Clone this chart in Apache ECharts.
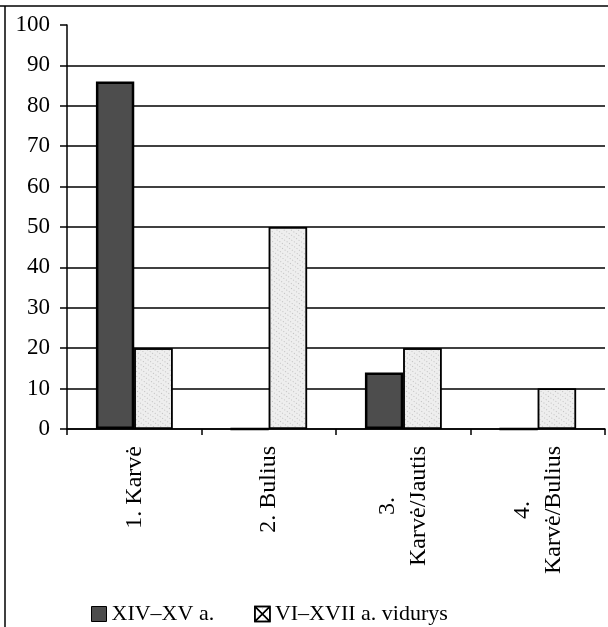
<!DOCTYPE html>
<html>
<head>
<meta charset="utf-8">
<script src="https://cdn.jsdelivr.net/npm/echarts@6/dist/echarts.min.js"></script>
<style>
html,body{margin:0;padding:0;background:#fff;}
#chart{width:608px;height:627px;}
</style>
</head>
<body>
<div id="chart"></div>
<script>
const categories = ['1. Karvė', '2. Bulius', '3.\nKarvė/Jautis', '4.\nKarvė/Bulius'];
const seriesNames = ['XIV–XV a.', 'VI–XVII a. vidurys'];
const valuesA = [86, 0, 14, 0];
const valuesB = [20, 50, 20, 10];
const yTicks = [0, 10, 20, 30, 40, 50, 60, 70, 80, 90, 100];

const FONT = 'Liberation Serif';
const chart = echarts.init(document.getElementById('chart'), null, {renderer: 'canvas'});
chart.setOption({
  backgroundColor: '#fff',
  animation: false,
  graphic: [
    {type: 'line', shape: {x1: 0, y1: 6, x2: 608, y2: 6}, style: {stroke: '#000', lineWidth: 1.5}},
    {type: 'line', shape: {x1: 5, y1: 6, x2: 5, y2: 627}, style: {stroke: '#000', lineWidth: 1.5}}
  ],
  grid: {left: 67, right: 3, top: 25, bottom: 198, containLabel: false},
  legend: {
    left: 86, top: 598,
    itemWidth: 15, itemHeight: 15, itemGap: 40,
    textStyle: {fontFamily: FONT, fontSize: 22, color: '#000'},
    data: [
      {name: seriesNames[0], icon: 'rect', itemStyle: {color: '#4d4d4d', borderColor: '#000', borderWidth: 1}},
      {name: seriesNames[1], icon: 'path://M0,0L10,0L10,10L0,10Z M0,0L10,10 M10,0L0,10', itemStyle: {color: '#fff', borderColor: '#000', borderWidth: 1.5}}
    ]
  },
  xAxis: {
    type: 'category',
    data: categories,
    axisLine: {lineStyle: {color: '#000', width: 1.5}},
    axisTick: {show: true, length: 6, lineStyle: {color: '#000', width: 1.5}},
    axisLabel: {
      rotate: 90, margin: 17, interval: 0,
      fontFamily: FONT, fontSize: 24, color: '#000', lineHeight: 31,
      formatter: v => v.split('\n').map(s => '{c|' + s + '}').join('\n'),
      rich: {c: {fontFamily: FONT, fontSize: 24, color: '#000', lineHeight: 31, align: 'center'}}
    }
  },
  yAxis: {
    type: 'value', min: yTicks[0], max: yTicks[yTicks.length - 1], interval: 10,
    axisLine: {show: true, lineStyle: {color: '#000', width: 1.5}},
    axisTick: {show: true, length: 7, lineStyle: {color: '#000', width: 1.5}},
    axisLabel: {margin: 17, fontFamily: FONT, fontSize: 23, color: '#000'},
    splitLine: {show: true, showMaxLine: false, lineStyle: {color: '#000', width: 1.5}}
  },
  series: [
    {
      name: seriesNames[0], type: 'bar', data: valuesA,
      barGap: '0%', barCategoryGap: '43%',
      itemStyle: {color: '#4d4d4d', borderColor: '#000', borderWidth: 2.5}
    },
    {
      name: seriesNames[1], type: 'bar', data: valuesB,
      barGap: '0%', barCategoryGap: '43%',
      itemStyle: {color: '#eeeeee', borderColor: '#000', borderWidth: 1.5,
        decal: {symbol: 'circle', symbolSize: 0.35, dashArrayX: [3, 0], dashArrayY: [3, 1], color: 'rgba(120,120,120,0.5)', rotation: 0.6}}
    }
  ]
});
</script>
</body>
</html>
